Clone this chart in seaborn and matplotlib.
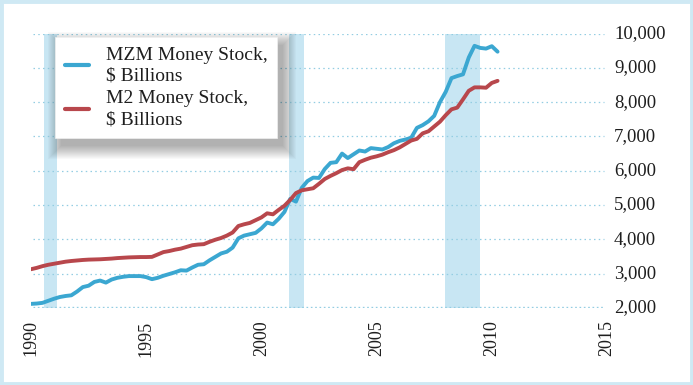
import numpy as np
import pandas as pd
import seaborn as sns
import matplotlib.pyplot as plt
from matplotlib.patches import Rectangle
from matplotlib.transforms import IdentityTransform

# quarterly observations, 1990 Q1 .. 2010 Q2
quarters = np.arange(1990.0, 2010.26, 0.25)

mzm = [2120, 2130, 2150, 2210, 2270, 2320, 2350, 2370,
       2480, 2610, 2650, 2760, 2800, 2740, 2830, 2880,
       2910, 2930, 2930, 2930, 2900, 2840, 2880, 2940,
       2990, 3040, 3100, 3090, 3180, 3260, 3275, 3390,
       3490, 3590, 3640, 3760, 4030, 4110, 4150, 4190,
       4320, 4490, 4440, 4600, 4800, 5180, 5100, 5500,
       5700, 5800, 5790, 6050, 6230, 6250, 6500, 6370,
       6480, 6590, 6560, 6660, 6640, 6620, 6690, 6800,
       6870, 6910, 6960, 7250, 7330, 7440, 7600, 8000,
       8300, 8700, 8760, 8810, 9300, 9640, 9580, 9560,
       9630, 9470]

m2 = [3130, 3170, 3220, 3260, 3290, 3320, 3350, 3370,
      3385, 3400, 3410, 3415, 3420, 3430, 3440, 3455,
      3465, 3475, 3480, 3485, 3485, 3490, 3560, 3630,
      3660, 3700, 3730, 3780, 3830, 3850, 3860, 3930,
      3990, 4040, 4110, 4200, 4390, 4440, 4480, 4560,
      4640, 4760, 4730, 4860, 4980, 5150, 5350, 5430,
      5460, 5490, 5620, 5760, 5850, 5930, 6020, 6070,
      6045, 6250, 6320, 6380, 6420, 6470, 6540, 6600,
      6680, 6780, 6880, 6930, 7090, 7150, 7290, 7430,
      7620, 7790, 7840, 8080, 8330, 8430, 8430, 8420,
      8560, 8620]

series_names = ["MZM Money Stock,\n$ Billions", "M2 Money Stock,\n$ Billions"]
series_colors = ["#3ba7d1", "#b8474c"]

recessions = [(1990.55, 1991.15), (2001.2, 2001.87), (2007.95, 2009.5)]

x_ticks = [1990, 1995, 2000, 2005, 2010, 2015]
y_ticks = [2000, 3000, 4000, 5000, 6000, 7000, 8000, 9000, 10000]

df = pd.DataFrame({
    "year": np.concatenate([quarters, quarters]),
    "value": mzm + m2,
    "series": [series_names[0]] * len(mzm) + [series_names[1]] * len(m2),
})

sns.set_style("white")
plt.rcParams["font.family"] = ["Liberation Serif", "DejaVu Serif"]
text_color = "#1e1e1e"
grid_color = "#93cde2"

fig = plt.figure(figsize=(6.93, 3.85), dpi=100)
ax = fig.add_axes([31 / 693, 1 - 308 / 385, 576 / 693, 274.5 / 385])

for start, end in recessions:
    ax.axvspan(start, end, color="#c8e6f3", lw=0, zorder=0)

for y in y_ticks[1:]:
    ax.axhline(y, xmin=0.004, xmax=0.995, color=grid_color, lw=0.9,
               linestyle=(0, (1.2, 2.6)), zorder=1)
ax.axhline(2000, xmin=0.004, xmax=0.995, color=grid_color, lw=2.4,
           linestyle=(0, (0.5, 0.8)), zorder=1)

sns.lineplot(data=df, x="year", y="value", hue="series",
             palette=series_colors, lw=2.8, ax=ax, zorder=3)

ax.set_xlim(1990, 2015)
ax.set_ylim(2000, 10000)
ax.set_xlabel("")
ax.set_ylabel("")
sns.despine(ax=ax, left=True, bottom=True, right=True, top=True)

ax.set_xticks(x_ticks)
ax.set_xticklabels([str(t) for t in x_ticks], rotation=90, fontsize=13,
                   color=text_color, va="top")
ax.yaxis.tick_right()
ax.set_yticks(y_ticks)
ax.set_yticklabels([f"{t:,}" for t in y_ticks], fontsize=13.5, color=text_color)
ax.tick_params(axis="x", length=0, pad=9)
ax.tick_params(axis="y", length=0, pad=5)
for lab in ax.get_yticklabels():
    lab.set_verticalalignment("center")

leg = ax.legend(loc="upper left", bbox_to_anchor=(0.042, 0.988),
                borderaxespad=0, fontsize=14, frameon=True, fancybox=False,
                handlelength=1.25, handletextpad=0.85, labelspacing=0.3,
                borderpad=0.5, labelcolor=text_color)
leg.get_frame().set_facecolor("white")
leg.get_frame().set_edgecolor("#f0f0f0")
leg.get_frame().set_linewidth(0.5)
leg.get_frame().set_alpha(1)
leg.set_zorder(6)
for t in leg.get_texts():
    t.set_linespacing(1.3)
for line in leg.get_lines():
    line.set_linewidth(3)

# soft drop shadow behind the legend box
fig.canvas.draw()
bb = leg.get_frame().get_window_extent()
for i in range(14):
    grow = i * 1.0
    ax.add_patch(Rectangle((bb.x0 + 6 - grow, bb.y0 - 8 - grow),
                           bb.width + 2 * grow, bb.height + 2 * grow,
                           transform=IdentityTransform(), facecolor="#000000",
                           alpha=0.022, lw=0, zorder=5, clip_on=False))

# light blue frame round the whole picture
fig.patches.append(Rectangle((0.002, 0.003), 0.996, 0.994, transform=fig.transFigure,
                             fill=False, edgecolor="#cfe9f4", lw=3.5))

fig.savefig("out.png", dpi=100)
